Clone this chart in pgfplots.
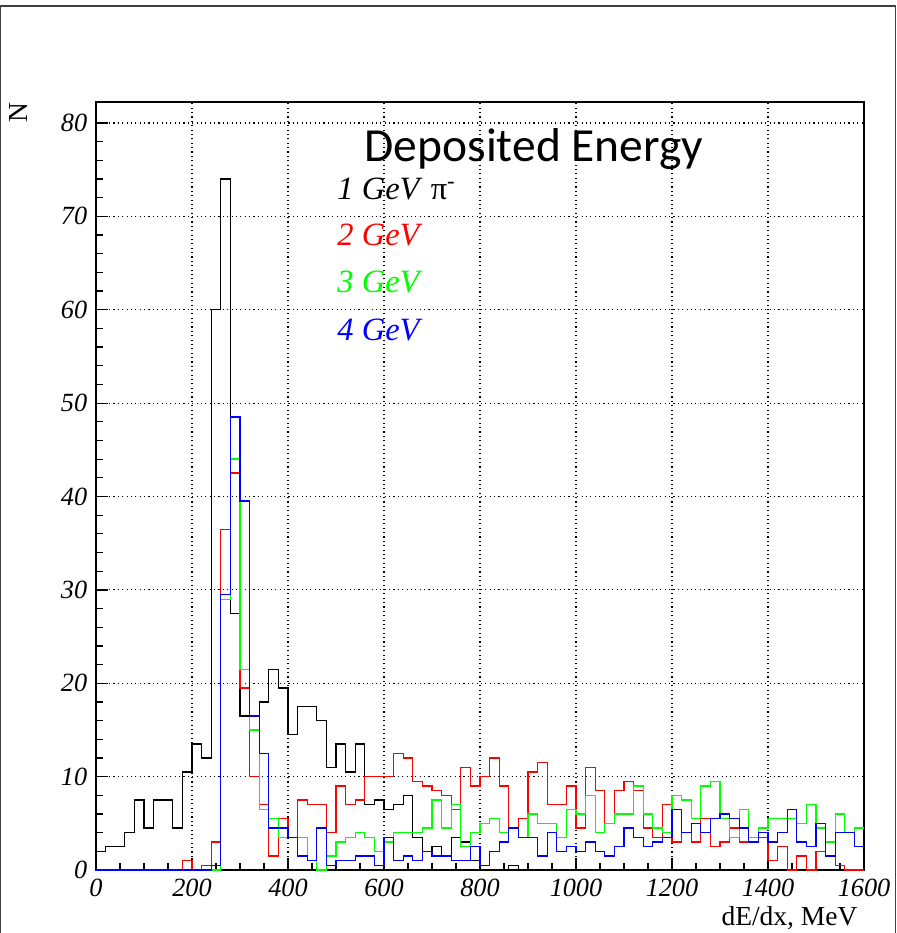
\documentclass[border=0pt]{standalone}
\usepackage{fontspec}
\setmainfont{Liberation Serif}
\newfontfamily\titlefont{Carlito}
\usepackage{pgfplots}
\pgfplotsset{compat=1.18}

\definecolor{rootgreen}{RGB}{0,255,0}
\definecolor{rootred}{RGB}{255,0,0}
\definecolor{rootblue}{RGB}{0,0,255}

% bins of 20 MeV, value at left edge; last row closes the last bin
\pgfplotstableread{
x y
0 2
20 2.5
40 2.5
60 4
80 7.5
100 4.5
120 7.5
140 7.5
160 4.5
180 10.5
200 13.5
220 12
240 60
260 74
280 27.5
300 16.5
320 16.5
340 18
360 21.5
380 19.5
400 14.5
420 17.5
440 17.5
460 16
480 11
500 13.5
520 10.5
540 13.5
560 7
580 7.5
600 6.5
620 7
640 8
660 3.5
680 2
700 2.5
720 1.5
740 3.5
760 3
780 1
800 0
820 0
840 0
860 0.5
880 0
1600 0
}\blackdata

\pgfplotstableread{
x y
0 0
180 1
200 0
220 0.5
240 3
260 36.5
280 42.5
300 19.5
320 10
340 7
360 1.5
380 5.5
400 3.5
420 7.5
440 7
460 7
480 4
500 9
520 7
540 7.5
560 10
580 10
600 10
620 12.5
640 12
660 9.5
680 9
700 8.5
720 8
740 6.5
760 11
780 9
800 10
820 12
840 9
860 4.5
880 5.5
900 10.5
920 11.5
940 7
960 7
980 9
1000 4.5
1020 11
1040 8.5
1060 5
1080 8.5
1100 9.5
1120 8.5
1140 4.5
1160 3.5
1180 7
1200 3
1220 4
1240 3
1260 5.5
1280 2.5
1300 3
1320 4.5
1340 3
1360 3
1380 3.5
1400 1
1420 2.5
1440 0
1460 1.5
1480 0
1500 2
1520 1.5
1540 0.5
1560 0
1580 0
1600 0
}\reddata

\pgfplotstableread{
x y
0 0
260 29
280 44
300 21.5
320 15
340 6.5
360 5.5
380 3.5
400 3.5
420 3.5
440 1
460 0
480 1.5
500 3
520 3.5
540 4
560 3.5
580 2
600 3
620 4
640 4
660 4
680 4.5
700 7.5
720 4.5
740 7
760 2.5
780 4
800 5
820 5.5
840 4
860 4.5
880 3.5
900 6
920 5
940 5
960 3.5
980 6.5
1000 6
1020 8
1040 4
1060 5
1080 6
1100 6
1120 9
1140 6
1160 4.5
1180 4
1200 8
1220 7.5
1240 5.5
1260 9
1280 9.5
1300 5.5
1320 3.5
1340 6.5
1360 3.5
1380 4.5
1400 5.5
1420 5.5
1440 5.5
1460 5
1480 7
1500 4.5
1520 3
1540 6
1560 4
1580 4.5
1600 4.5
}\greendata

\pgfplotstableread{
x y
0 0
240 0.5
260 29.5
280 48.5
300 39.5
320 16.5
340 12.5
360 4.5
380 4.5
400 3.5
420 1.5
440 1
460 4.5
480 0.5
500 1
520 1
540 1.5
560 1.5
580 0.5
600 3.5
620 1
640 1.5
660 1
680 2
700 1.5
720 1.5
740 1
760 1
780 2.5
800 0.5
820 2
840 3
860 4.5
880 3.5
900 3.5
920 1.5
940 4
960 2
980 2.5
1000 2
1020 3
1040 2
1060 1.5
1080 2.5
1100 4.5
1120 3.5
1140 2.5
1160 3
1180 3.5
1200 6.5
1220 4
1240 5
1260 4
1280 5.5
1300 6
1320 5.5
1340 4.5
1360 3
1380 4
1400 3
1420 4
1440 6.5
1460 3
1480 2.5
1500 5
1520 1.5
1540 4
1560 4
1580 2.5
1600 2.5
}\bluedata

\begin{document}
\begin{tikzpicture}
% picture frame: 1px = 0.4pt, axis box from (96,870) to (864,102)
\path[use as bounding box] (-38.4pt,-25.2pt) rectangle (320.4pt,348pt);
\draw[black!75, line width=0.6pt] (-38.2pt,-25.2pt) -- (-38.2pt,345.6pt) -- (319.8pt,345.6pt) -- (319.8pt,-25.2pt);

\begin{axis}[
  at={(0pt,0pt)}, anchor=south west,
  scale only axis, width=307.2pt, height=307.2pt,
  xmin=0, xmax=1600, ymin=0, ymax=82.25,
  xtick distance=200, ytick distance=10,
  minor x tick num=3, minor y tick num=4,
  xtick pos=left, ytick pos=left,
  tick align=inside,
  major tick length=4.8pt, minor tick length=2.8pt,
  every tick/.style={black, line width=0.5pt},
  axis line style={black, line width=0.8pt},
  grid=major,
  grid style={black, line width=0.45pt, dash pattern=on 0.45pt off 1.3pt},
  tick label style={font=\fontsize{10.5}{12}\selectfont\itshape},
  /pgf/number format/assume math mode=true,
  /pgf/number format/1000 sep={},
  const plot,
]
\addplot[black, line width=0.55pt] table {\blackdata};
\addplot[rootred, line width=0.55pt] table {\reddata};
\addplot[rootgreen, line width=0.55pt] table {\greendata};
\addplot[rootblue, line width=0.55pt] table {\bluedata};

\node[anchor=base, font=\titlefont\fontsize{19}{22}\selectfont] at (axis cs:912.5,75.9) {Deposited Energy};
\node[anchor=base west, inner sep=0pt, font=\fontsize{13}{15}\selectfont] at (axis cs:502,71.8) {\textit{1 GeV} π\textsuperscript{-}};
\node[anchor=base west, inner sep=0pt, text=rootred, font=\fontsize{13}{15}\selectfont\itshape] at (axis cs:502,66.9) {2 GeV};
\node[anchor=base west, inner sep=0pt, text=rootgreen, font=\fontsize{13}{15}\selectfont\itshape] at (axis cs:502,61.8) {3 GeV};
\node[anchor=base west, inner sep=0pt, text=rootblue, font=\fontsize{13}{15}\selectfont\itshape] at (axis cs:502,56.7) {4 GeV};
\end{axis}

\node[anchor=base east, inner sep=0pt, font=\fontsize{11}{13}\selectfont] at (304.8pt,-22pt) {dE/dx, MeV};
\node[rotate=90, inner sep=0pt, font=\fontsize{11}{13}\selectfont] at (-31.2pt,302.8pt) {N};
\end{tikzpicture}
\end{document}
